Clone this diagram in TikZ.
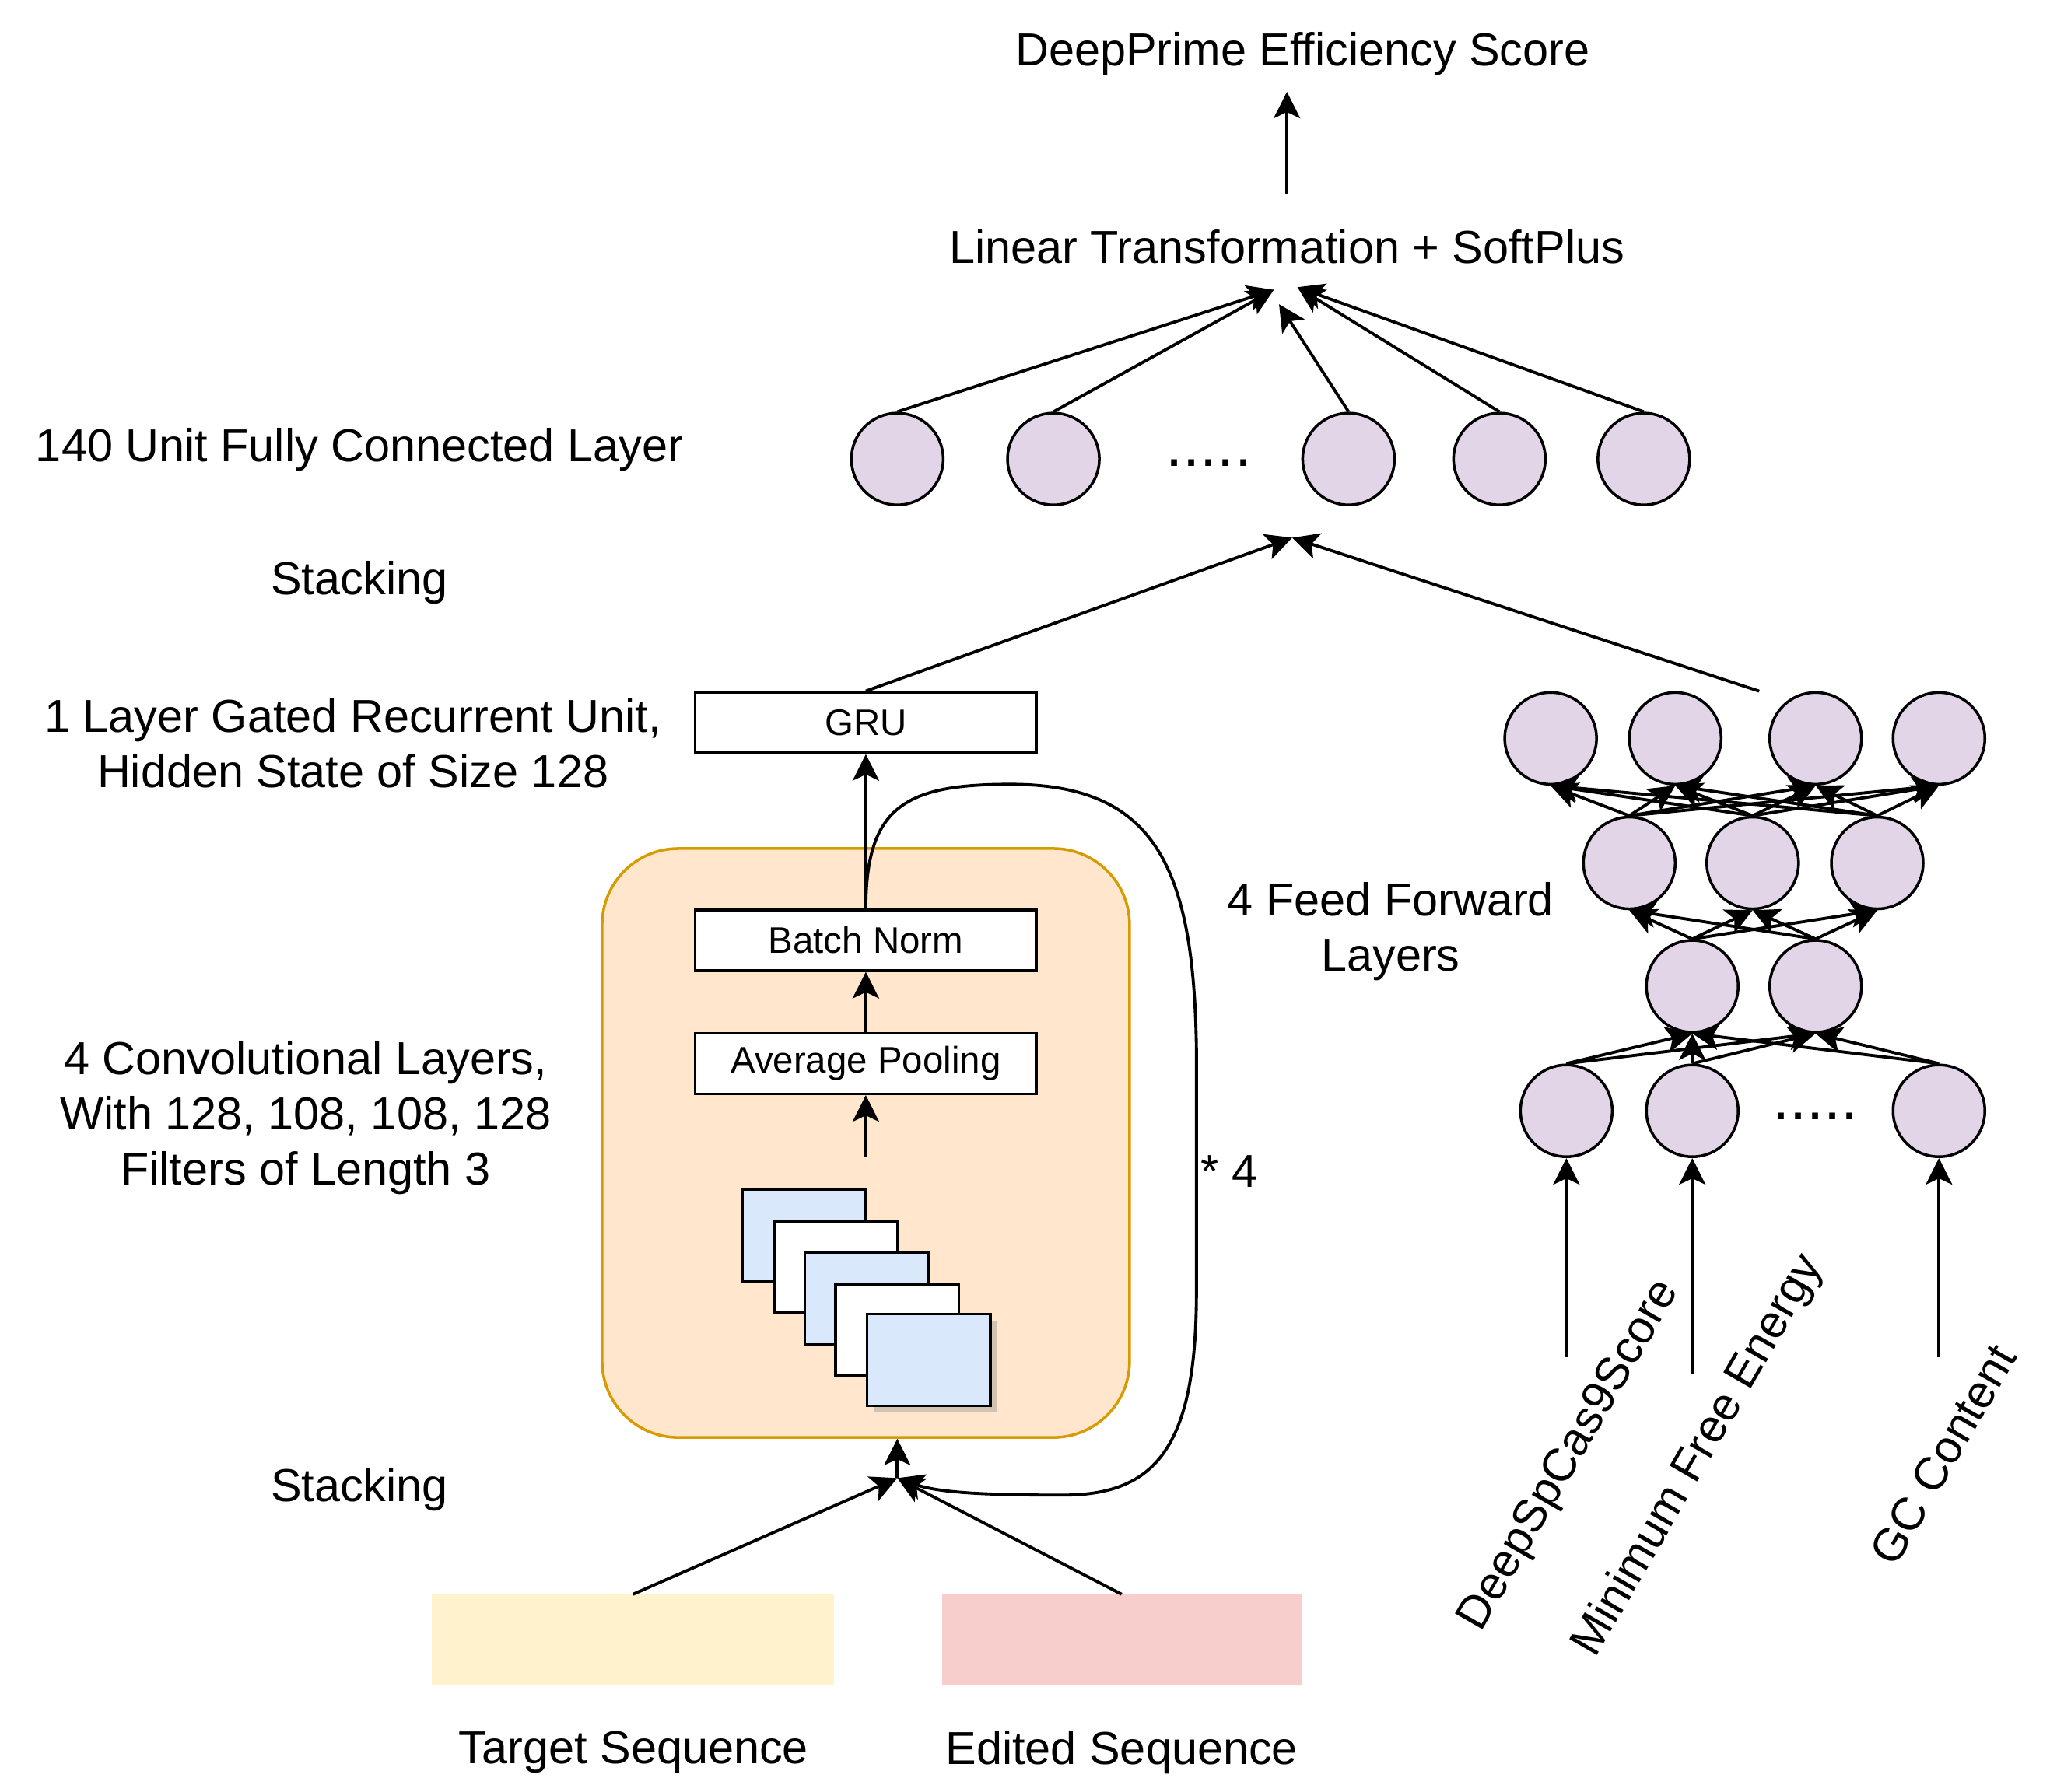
\documentclass[tikz,border=0pt]{standalone}
\usepackage{fontspec}
\setmainfont{Liberation Sans}
\usetikzlibrary{arrows.meta,shadows}
\definecolor{nodepurple}{HTML}{E1D5E7}
\definecolor{boxblue}{HTML}{DAE8FC}
\definecolor{convfill}{HTML}{FFE6CC}
\definecolor{convdraw}{HTML}{D79B00}
\definecolor{seqyellow}{HTML}{FFF2CC}
\definecolor{seqred}{HTML}{F8CECC}
\tikzset{
  lbl/.style={font=\fontsize{16.9}{20.2}\selectfont, align=center, inner sep=0pt},
  dotslbl/.style={font=\fontsize{22.6}{26}\selectfont, inner sep=0pt, anchor=base},
  neuron/.style={circle, draw, fill=nodepurple, line width=1.0pt, minimum size=1.18cm, inner sep=0pt},
  layerbox/.style={draw, fill=white, line width=1.0pt, minimum width=4.384cm, minimum height=0.776cm, inner sep=0pt, font=\fontsize{13.5}{16}\selectfont},
  featmap/.style={draw, line width=1.0pt, minimum width=1.585cm, minimum height=1.18cm, inner sep=0pt},
  arr/.style={line width=1.1pt, -{Stealth[length=0.34cm,width=0.34cm,inset=0.08cm]}}
}
\begin{document}
\begin{tikzpicture}[x=0.016862cm, y=-0.016862cm]
\useasboundingbox (0,0) rectangle (1568,1366);

% ---- top outputs
\node[lbl] (score) at (993,41) {DeepPrime Efficiency Score};
\node[lbl] (lt) at (981,188) {Linear Transformation + SoftPlus};
\coordinate (ltout) at (981,148);
\coordinate (scorein) at (981,70);
\draw[arr] (ltout) -- (scorein);

\coordinate (ltinA) at (971,221);
\coordinate (ltinB) at (975,232);
\coordinate (ltinC) at (989,219);

% ---- fully connected layer
\node[lbl] (fclbl) at (274,343) {140 Unit Fully Connected Layer};
\node[neuron] (t1) at (684,350) {};
\node[neuron] (t2) at (803,350) {};
\node[dotslbl] (tdots) at (921.5,355.7) {.....};
\node[neuron] (t3) at (1028,350) {};
\node[neuron] (t4) at (1143,350) {};
\node[neuron] (t5) at (1253,350) {};
\draw[arr] (t1.north) -- (ltinA);
\draw[arr] (t2.north) -- (ltinA);
\draw[arr] (t3.north) -- (ltinB);
\draw[arr] (t4.north) -- (ltinC);
\draw[arr] (t5.north) -- (ltinC);

% ---- stacking (top)
\node[lbl] (stack1) at (274,444) {Stacking};
\coordinate (stk) at (985,410);

% ---- GRU
\node[lbl] (grulbl) at (269,567) {1 Layer Gated Recurrent Unit,\\Hidden State of Size 128};
\node[layerbox] (gru) at (660,551) {GRU};
\draw[arr] (gru.north) -- (stk);

% ---- conv block
\node[lbl] (convlbl) at (233,852) {4 Convolutional Layers,\\With 128, 108, 108, 128\\Filters of Length 3};
\node[draw=convdraw, fill=convfill, line width=1.0pt, rounded corners=0.98cm, minimum width=6.779cm, minimum height=7.571cm] (conv) at (660,871.5) {};
\node[layerbox] (bn) at (660,717) {Batch Norm};
\node[layerbox] (ap) at (660,811) {Average Pooling};
\node[featmap, fill=boxblue] (fm1) at (613,942) {};
\node[featmap, fill=white] (fm2) at (637,966) {};
\node[featmap, fill=boxblue] (fm3) at (660.5,990) {};
\node[featmap, fill=white] (fm4) at (684,1014) {};
\node[featmap, fill=boxblue, drop shadow={opacity=0.35, shadow xshift=0.08cm, shadow yshift=-0.08cm}] (fm5) at (708,1037) {};
\coordinate (fmout) at (660,882);
\draw[arr] (fmout) -- (ap.south);
\draw[arr] (ap.north) -- (bn.south);
\draw[arr] (bn.north) -- (gru.south);

% ---- loop * 4
\coordinate (merge) at (684,1127);
\draw[arr] (bn.north) .. controls (660,615) and (690,598) .. (770,598)
  .. controls (880,598) and (910,660) .. (912,800) -- (912,985)
  .. controls (912,1105) and (880,1140) .. (810,1140)
  .. controls (750,1140) and (715,1138) .. (merge);
\node[lbl] (times4) at (937,893) {* 4};

% ---- stacking (bottom)
\node[lbl] (stack2) at (274,1136) {Stacking};
\node[fill=seqyellow, minimum width=5.177cm, minimum height=1.163cm, inner sep=0pt] (tseq) at (482.5,1250.5) {};
\node[fill=seqred, minimum width=4.62cm, minimum height=1.163cm, inner sep=0pt] (eseq) at (855,1250.5) {};
\node[lbl] (tseqlbl) at (483,1336) {Target Sequence};
\node[lbl] (eseqlbl) at (855,1336) {Edited Sequence};
\draw[arr] (tseq.north) -- (merge);
\draw[arr] (eseq.north) -- (merge);
\draw[arr] (merge) -- (conv.south -| merge);

% ---- feed forward network
\node[lbl] (fflbl) at (1060,710) {4 Feed Forward\\Layers};
\node[neuron] (f4a) at (1182,563) {};
\node[neuron] (f4b) at (1277,563) {};
\node[neuron] (f4c) at (1384,563) {};
\node[neuron] (f4d) at (1478,563) {};
\node[neuron] (f3a) at (1242,658) {};
\node[neuron] (f3b) at (1336,658) {};
\node[neuron] (f3c) at (1431,658) {};
\node[neuron] (f2a) at (1290,752) {};
\node[neuron] (f2b) at (1384,752) {};
\node[neuron] (f1a) at (1194,847) {};
\node[neuron] (f1b) at (1290,847) {};
\node[dotslbl] (fdots) at (1384,853.7) {.....};
\node[neuron] (f1c) at (1478,847) {};

\foreach \s in {f1a,f1b,f1c}{\foreach \t in {f2a,f2b}{\draw[arr] (\s.north) -- (\t.south);}}
\foreach \s in {f2a,f2b}{\foreach \t in {f3a,f3b,f3c}{\draw[arr] (\s.north) -- (\t.south);}}
\foreach \s in {f3a,f3b,f3c}{\foreach \t in {f4a,f4b,f4c,f4d}{\draw[arr] (\s.north) -- (\t.south);}}

\coordinate (ffout) at (1341,527);
\draw[arr] (ffout) -- (stk);

% ---- inputs
\coordinate (in1) at (1194,1035);
\coordinate (in2) at (1290,1048);
\coordinate (in3) at (1478,1035);
\draw[arr] (in1) -- (f1a.south);
\draw[arr] (in2) -- (f1b.south);
\draw[arr] (in3) -- (f1c.south);
\node[lbl, rotate=60] (x1) at (1197,1110) {DeepSpCas9Score};
\node[lbl, rotate=60] (x2) at (1295,1110) {Minimum Free Energy};
\node[lbl, rotate=60] (x3) at (1481,1109) {GC Content};
\end{tikzpicture}
\end{document}
